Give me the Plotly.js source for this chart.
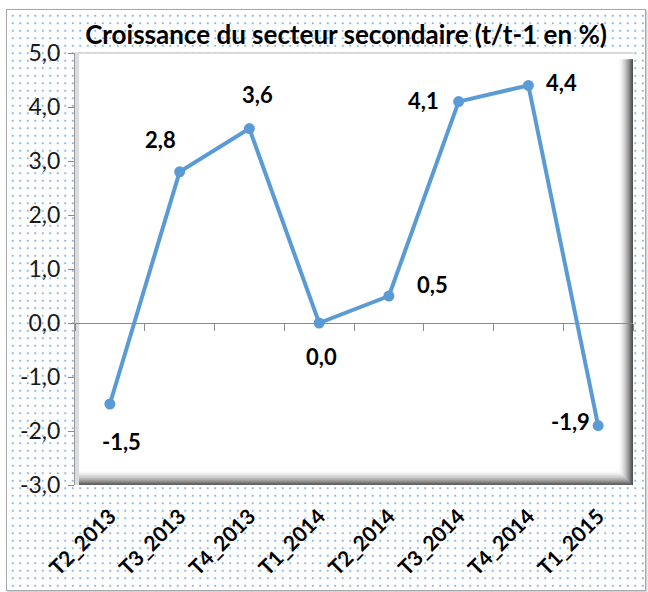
<!DOCTYPE html>
<html>
<head>
<meta charset="utf-8">
<script src="https://cdn.plot.ly/plotly-3.0.1.min.js"></script>
<style>
  html, body { margin: 0; padding: 0; background: #ffffff; }
  #wrap { position: relative; width: 648px; height: 592px; overflow: hidden; }
  #bg {
    position: absolute; left: 6px; top: 9px; width: 638px; height: 580px;
    border: 1.5px solid #a8a8a8;
    box-shadow: 1px 1px 2px rgba(0,0,0,0.25);
    background-color: #ffffff;
    background-image: radial-gradient(circle, #86b6e6 0.85px, rgba(255,255,255,0) 1.35px);
    background-size: 7.5px 7.5px;
    background-position: 2px 2px;
  }
  #chart { position: absolute; left: 0; top: 0; width: 648px; height: 592px; }
</style>
</head>
<body>
<div id="wrap">
  <div id="bg"></div>
  <div id="chart"></div>
</div>
<script>
// ---- data ----
const categories = ["T2_2013", "T3_2013", "T4_2013", "T1_2014", "T2_2014", "T3_2014", "T4_2014", "T1_2015"];
const growth = [-1.5, 2.8, 3.6, 0.0, 0.5, 4.1, 4.4, -1.9];
const yTicks = [-3, -2, -1, 0, 1, 2, 3, 4, 5];
const yTickLabels = ["-3,0", "-2,0", "-1,0", "0,0", "1,0", "2,0", "3,0", "4,0", "5,0"];
const chartTitle = "Croissance du secteur secondaire (t/t-1 en %)";

// label offsets (pixels) relative to each point – style only
const labelShiftX = [12, -19, 8, 2, 44, -35, 33, -28];
const labelShiftY = [-37, 32, 34, -33, 12, 1, 3, 4];

const fmt = v => v.toFixed(1).replace('.', ',');

const lineTrace = {
  x: categories, y: growth, type: 'scatter', mode: 'lines+markers',
  line: { color: '#5b9bd5', width: 4 },
  marker: { color: '#5b9bd5', size: 11 },
  hoverinfo: 'skip', showlegend: false, cliponaxis: false
};
const axisTrace = {
  x: categories, y: growth, type: 'scatter', mode: 'markers',
  xaxis: 'x2', marker: { opacity: 0 }, hoverinfo: 'skip', showlegend: false
};

const annotations = categories.map((c, i) => ({
  x: c, y: growth[i], xref: 'x', yref: 'y', text: fmt(growth[i]),
  showarrow: false, xshift: labelShiftX[i], yshift: labelShiftY[i],
  font: { family: 'Lato', size: 22, color: '#000000', weight: 'bold' }
}));

// bevel/shadow bands on the plot box (right and bottom edges)
const shapes = [];
const nb = 10;
for (let i = 0; i < nb; i++) {
  const t = (i + 1) / nb;
  const g = Math.round(255 - 175 * Math.pow(t, 1.6));
  const col = `rgb(${g},${g},${g})`;
  shapes.push({
    type: 'rect', layer: 'below', xref: 'paper', yref: 'paper',
    xsizemode: 'pixel', xanchor: 1, x0: -14 + i * 1.4, x1: 0,
    y0: 0, y1: 0.985, fillcolor: col, line: { width: 0 }
  });
}
for (let i = 0; i < nb; i++) {
  const t = (i + 1) / nb;
  const g = Math.round(255 - 160 * Math.pow(t, 1.6));
  const col = `rgb(${g},${g},${g})`;
  shapes.push({
    type: 'rect', layer: 'below', xref: 'paper', yref: 'paper',
    ysizemode: 'pixel', yanchor: 0, y0: 14 - i * 1.4, y1: 0,
    x0: 0.005, x1: 1 - 14 / 558 + i * 1.4 / 558, fillcolor: col, line: { width: 0 }
  });
}
shapes.push({ type: 'line', layer: 'below', xref: 'paper', yref: 'paper', x0: 0, x1: 1, y0: 1, y1: 1, line: { color: '#d0d0d0', width: 1.5 } });
shapes.push({ type: 'rect', layer: 'below', xref: 'paper', yref: 'paper', xsizemode: 'pixel', xanchor: 0, x0: 0, x1: 4, y0: 0, y1: 1, fillcolor: '#dcdcdc', line: { width: 0 } });

const layout = {
  width: 648, height: 592,
  margin: { l: 75, r: 15, t: 53, b: 107 },
  paper_bgcolor: 'rgba(0,0,0,0)',
  plot_bgcolor: '#ffffff',
  separators: ',.',
  showlegend: false,
  title: {
    text: chartTitle, xref: 'container', yref: 'container',
    x: 0.534, xanchor: 'center', y: 1 - 35 / 592, yanchor: 'middle',
    font: { family: 'Lato', size: 26, color: '#000000', weight: 'bold' }
  },
  xaxis: {
    type: 'category', categoryarray: categories, range: [-0.5, 7.5],
    showline: false, showgrid: false, zeroline: false, ticks: '',
    tickangle: -45, ticklabelstandoff: 14,
    tickfont: { family: 'Lato', size: 21, color: '#000000', weight: 'bold' },
    fixedrange: true
  },
  xaxis2: {
    type: 'category', categoryarray: categories, range: [-0.5, 7.5],
    overlaying: 'x', anchor: 'free', position: 0.375, side: 'bottom',
    showline: true, linecolor: '#8a8a8a', linewidth: 1,
    ticks: 'outside', tickson: 'boundaries', ticklen: 7, tickcolor: '#8a8a8a',
    showticklabels: false, showgrid: false, zeroline: false, fixedrange: true
  },
  yaxis: {
    range: [-3, 5], tickvals: yTicks, ticktext: yTickLabels,
    showline: true, linecolor: '#9a9a9a', linewidth: 1,
    ticks: 'outside', ticklen: 6, tickcolor: '#8a8a8a',
    showgrid: false, zeroline: false, ticklabelstandoff: 3,
    tickfont: { family: 'Lato', size: 23, color: '#1a1a1a' },
    fixedrange: true
  },
  shapes: shapes,
  annotations: annotations
};

Plotly.newPlot('chart', [lineTrace, axisTrace], layout, { displayModeBar: false, staticPlot: true });
</script>
</body>
</html>
